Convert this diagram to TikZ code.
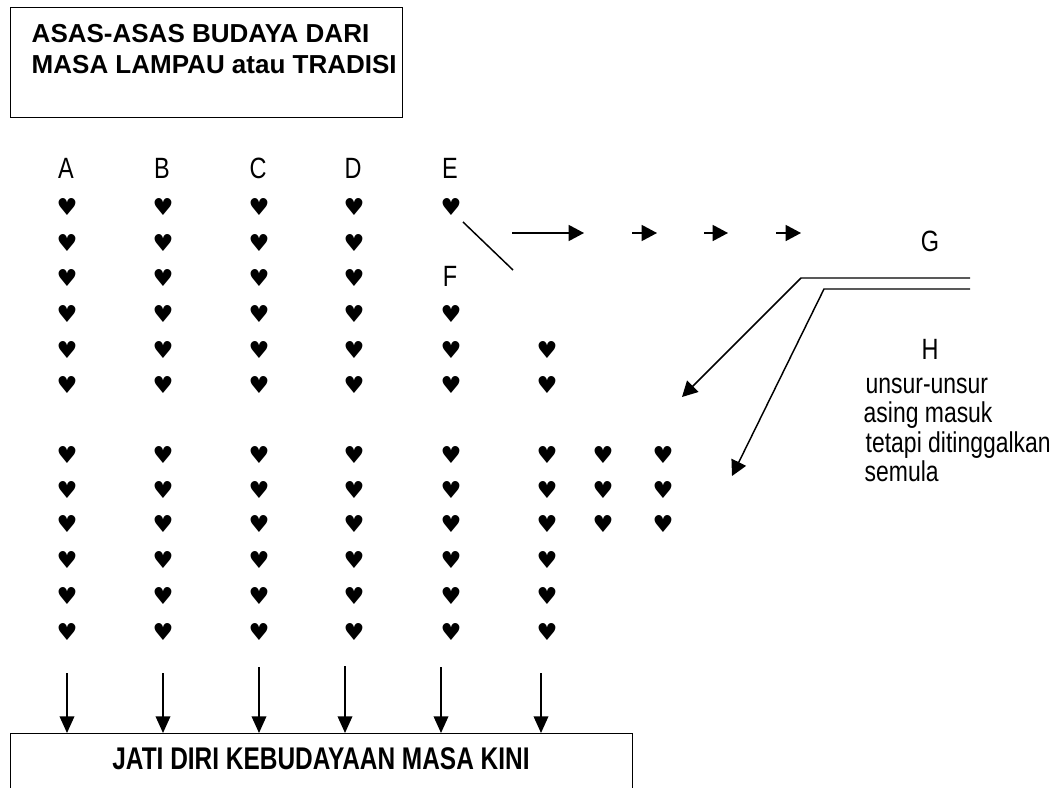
\documentclass[tikz,border=0pt]{standalone}
\usepackage{fontspec}
\setmainfont{Liberation Sans}
\newfontfamily\narrowfont[FakeStretch=0.8]{Liberation Sans}
\newfontfamily\narrowboldfont[FakeStretch=0.78]{Liberation Sans}
\newfontfamily\symfont{DejaVu Sans}
\usetikzlibrary{arrows.meta}
\begin{document}
\begin{tikzpicture}[x=0.75pt,y=-0.75pt,line width=1.1pt,
  heart/.style={inner sep=0pt,font=\symfont\fontsize{17.5pt}{17.5pt}\selectfont},
  lbl/.style={inner sep=0pt,anchor=base,font=\narrowfont\fontsize{22pt}{22pt}\selectfont},
  txt/.style={inner sep=0pt,anchor=base west,font=\narrowfont\fontsize{21.5pt}{22pt}\selectfont},
  ttl/.style={inner sep=0pt,anchor=base west,font=\bfseries\fontsize{19.5pt}{20pt}\selectfont},
  arr/.style={-{Triangle[length=11.5pt,width=12pt]}},
  darr/.style={-{Triangle[length=12.5pt,width=11pt]}},
  box/.style={draw,inner sep=0pt,anchor=north west}]
\useasboundingbox (0,0) rectangle (1063,788);
% top box
\node[box,minimum width=294pt,minimum height=82.5pt] (topbox) at (10,7) {};
\node[ttl] (t1) at (31,43) {ASAS-ASAS BUDAYA DARI};
\node[ttl] (t2) at (31,74) {MASA LAMPAU atau TRADISI};
% labels
\foreach \n/\x in {A/66,B/162,C/258,D/353,E/450}
  \node[lbl] (l\n) at (\x,178) {\n};
\node[lbl] (lF) at (450,286) {F};
\node[lbl] (lG) at (930,251) {G};
\node[lbl] (lH) at (930,359) {H};
\node[txt] (h1) at (865,393) {unsur-unsur};
\node[txt] (h2) at (863,422) {asing masuk};
\node[txt] (h3) at (865,452) {tetapi ditinggalkan};
\node[txt] (h4) at (864,481) {semula};
% hearts
\foreach \c/\x in {1/67,2/163,3/259,4/354}
  \foreach \r/\y in {1/207,2/243,3/278,4/314,5/350,6/385,7/455,8/490,9/524,10/560,11/596,12/632}
    \node[heart] (h\c-\r) at (\x,\y) {♥};
\foreach \r/\y in {1/207,4/314,5/350,6/385,7/455,8/490,9/524,10/560,11/596,12/632}
  \node[heart] (h5-\r) at (451,\y) {♥};
\foreach \r/\y in {5/350,6/385,7/455,8/490,9/524,10/560,11/596,12/632}
  \node[heart] (h6-\r) at (547,\y) {♥};
\foreach \c/\x in {7/603,8/663}
  \foreach \r/\y in {7/455,8/490,9/524}
    \node[heart] (h\c-\r) at (\x,\y) {♥};
% E diagonal and arrows to G
\coordinate (d1) at (463,222);
\coordinate (d2) at (513,270);
\draw (d1) -- (d2);
\coordinate (a0) at (512,233); \coordinate (a1) at (584,233);
\draw[arr] (a0) -- (a1);
\foreach \s/\e [count=\i] in {632/657,704/728,776/801}{
  \coordinate (s\i) at (\s,233); \coordinate (e\i) at (\e,233);
  \draw[arr] (s\i) -- (e\i);}
% double line from G / H
\coordinate (g1) at (970,278); \coordinate (g1c) at (801,278); \coordinate (p1) at (682,397);
\coordinate (g2) at (970,289); \coordinate (g2c) at (824,289); \coordinate (p2) at (732,476);
\draw[arr] (g1) -- (g1c) -- (p1);
\draw[arr] (g2) -- (g2c) -- (p2);
% bottom box
\node[box,minimum width=466.5pt,minimum height=43pt] (botbox) at (10,733) {};
\node[inner sep=0pt,anchor=base,font=\narrowboldfont\bfseries\fontsize{23.5pt}{24pt}\selectfont] (bt) at (321,769) {JATI DIRI KEBUDAYAAN MASA KINI};
\foreach \x/\y [count=\i] in {67/673,163/673,259/667,345/666,441/667,541/673}{
  \coordinate (b\i) at (\x,\y);
  \draw[darr] (b\i) -- (b\i |- botbox.north);}
\end{tikzpicture}
\end{document}
